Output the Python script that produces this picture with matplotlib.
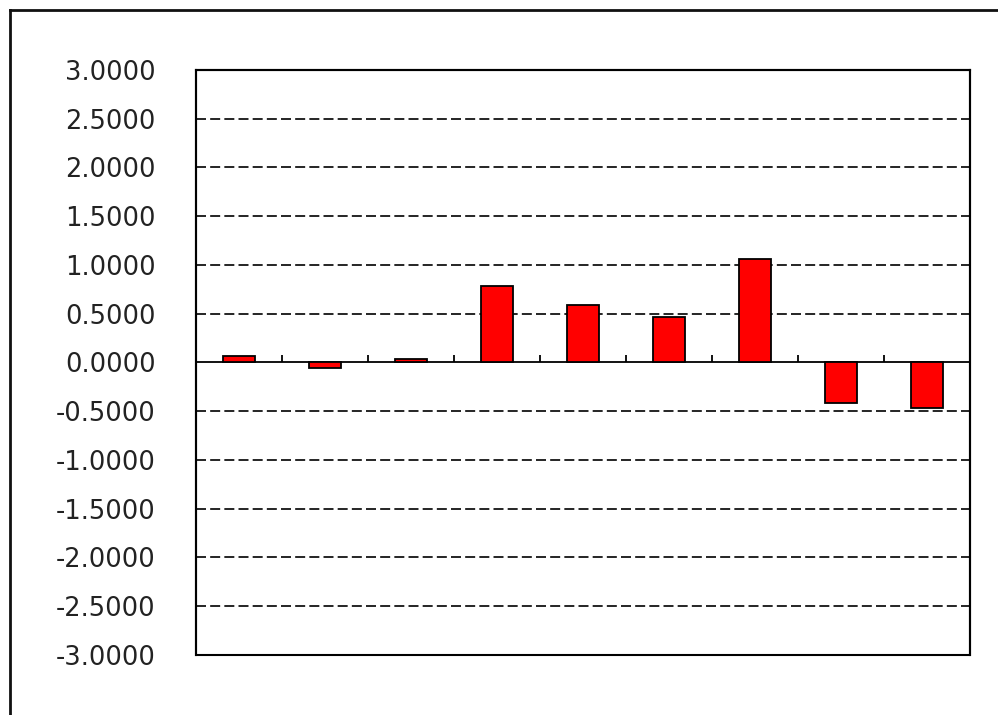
import matplotlib.pyplot as plt
from matplotlib.lines import Line2D
from matplotlib.patches import Rectangle
import numpy as np

#%% Data
categories = ['1', '2', '3', '4', '5', '6', '7', '8', '9']
values = [0.065, -0.06, 0.04, 0.78, 0.59, 0.47, 1.06, -0.42, -0.47]
yticks = [-3.0, -2.5, -2.0, -1.5, -1.0, -0.5, 0.0, 0.5, 1.0, 1.5, 2.0, 2.5, 3.0]

#%% Plot
fig = plt.figure(figsize=(9.98, 7.15), dpi=100)
ax = fig.add_axes([196/998, 1-655/715, (970-196)/998, (655-70)/715])

x = np.arange(len(categories))
ax.bar(x, values, width=0.38, color='#ff0000', edgecolor='black', linewidth=1.3, zorder=3)

ax.set_xlim(-0.5, len(categories) - 0.5)
ax.set_ylim(-3, 3)
ax.set_yticks(yticks)
ax.set_yticklabels(['%.4f' % v for v in yticks], fontsize=18.5, color='#222222')
ax.tick_params(axis='y', length=0, pad=29)

# gridlines (skip the top, bottom and zero)
for v in yticks[1:-1]:
    if v != 0:
        ax.axhline(v, color='black', lw=1.2, ls=(0, (6, 2.5)), zorder=1)

# category axis sits on zero
ax.spines['bottom'].set_position(('data', 0))
ax.spines['bottom'].set_linewidth(1.3)
ax.set_xticks(x[:-1] + 0.5)
ax.set_xticklabels([])
ax.tick_params(axis='x', direction='in', length=5, width=1.3)
for s in ['top', 'left', 'right']:
    ax.spines[s].set_linewidth(1.5)
ax.add_patch(Rectangle((0, 0), 1, 1, transform=ax.transAxes, fill=False,
                       edgecolor='black', lw=1.5, zorder=5, clip_on=False))

# outer chart frame (partly cropped)
fig.add_artist(Line2D([10/998, 10/998], [0, 1-10/715], color='#111111', lw=2))
fig.add_artist(Line2D([10/998, 1], [1-10/715, 1-10/715], color='#111111', lw=2))

fig.savefig('out.png', dpi=100)
